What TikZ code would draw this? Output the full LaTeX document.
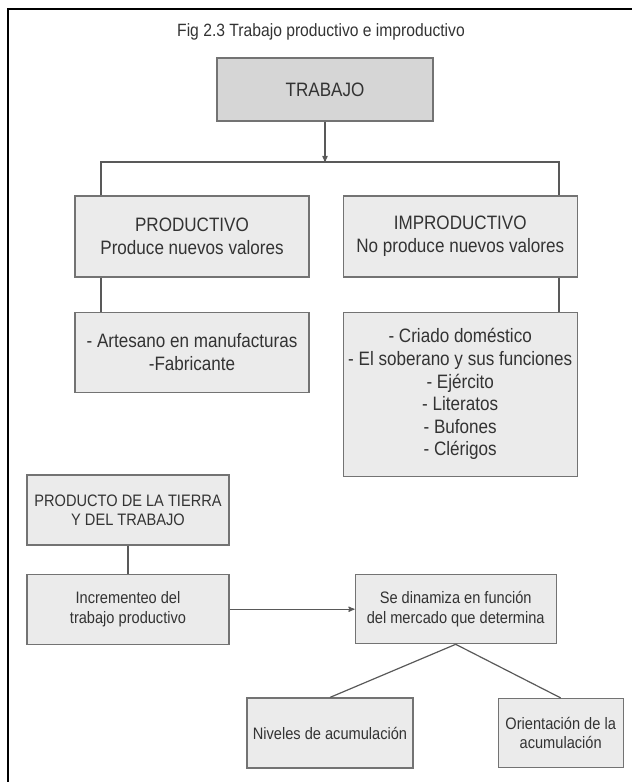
\documentclass[tikz,border=0pt]{standalone}
\usepackage{fontspec}
\setmainfont{Liberation Sans}[FakeStretch=0.88]
\usepackage{xcolor}
\usepackage{tikz}
\usetikzlibrary{arrows,positioning}

\begin{document}
\begin{tikzpicture}[>=stealth', x=1pt, y=-1pt, semithick, node distance=30pt]
	\tikzstyle{box}=[draw=black!55,fill=black!8,line width=1.2pt,text=black!80,align=center,inner sep=0pt,font=\fontsize{19.4}{22.6}\selectfont]
	\tikzstyle{sbox}=[box,font=\fontsize{16.6}{19.4}\selectfont]
	\tikzstyle{link}=[draw=black!65,line width=1.2pt]
	\useasboundingbox (0,0) rectangle (632,782);
	\draw[line width=2.5pt] (8,782) -- (8,9) -- (632,9);
	\node[text=black!80,font=\fontsize{17.8}{20}\selectfont] (title) at (321,32) {Fig 2.3 Trabajo productivo e improductivo};
	\node[box,fill=black!16,minimum width=216pt,minimum height=63pt] (T) at (325,89.5) {TRABAJO};
	\node[box,minimum width=234pt,minimum height=81pt] (P) at (192,236.5) {PRODUCTIVO\\Produce nuevos valores};
	\node[box,minimum width=234pt,minimum height=81pt] (I) [right=33pt of P] {IMPRODUCTIVO\\No produce nuevos valores};
	\node[box,minimum width=234pt,minimum height=80pt] (PL) [below=34pt of P] {- Artesano en manufacturas\\-Fabricante};
	\node[box,minimum width=234pt,minimum height=164pt] (IL) [below=34pt of I] {- Criado doméstico\\- El soberano y sus funciones\\- Ejército\\- Literatos\\- Bufones\\- Clérigos};
	\node[sbox,minimum width=202pt,minimum height=70pt] (PT) at (128,510) {PRODUCTO DE LA TIERRA\\Y DEL TRABAJO};
	\node[sbox,minimum width=202pt,minimum height=70pt] (IC) [below=28pt of PT] {Incrementeo del\\trabajo productivo};
	\node[sbox,minimum width=201pt,minimum height=69pt] (D) [right=125pt of IC] {Se dinamiza en función\\del mercado que determina};
	\node[sbox,minimum width=166pt,minimum height=70pt] (N) at (330,733) {Niveles de acumulación};
	\node[sbox,minimum width=125pt,minimum height=69pt] (O) [right=84pt of N] {Orientación de la\\acumulación};
	\coordinate (split) at (325,162);
	\coordinate (L) at (101,162);
	\coordinate (R) at (559,162);
	\draw[link,->] (T.south) -- (split);
	\draw[link] (P.north -| L) -- (L) -- (R) -- (I.north -| R);
	\draw[link] (P.south -| L) -- (PL.north -| L);
	\draw[link] (I.south -| R) -- (IL.north -| R);
	\draw[link] (PT) -- (IC);
	\draw[link,->] (IC) -- (D);
	\draw[link] (D.south) -- (N.north);
	\draw[link] (D.south) -- (O.north);
	%\draw[red] (0,0) grid[step=50] (632,782);
\end{tikzpicture}
\end{document}
